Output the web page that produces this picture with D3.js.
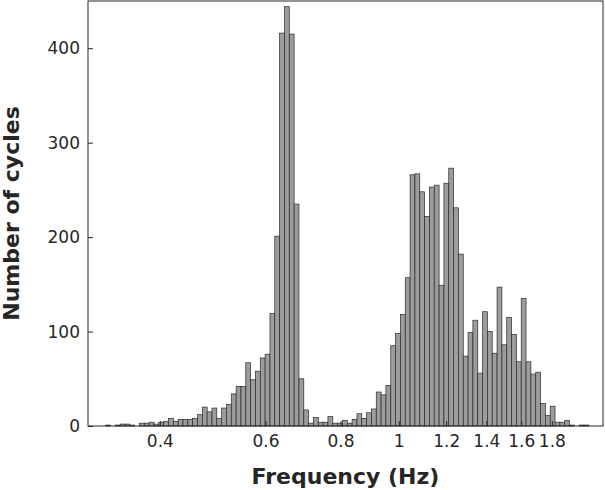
<!DOCTYPE html>
<html>
<head>
<meta charset="utf-8">
<script src="https://cdn.jsdelivr.net/npm/d3@7"></script>
<style>
  body { margin: 0; background: #fff; }
  text { font-family: "DejaVu Sans", sans-serif; fill: #262626; }
</style>
</head>
<body>
<div id="chart"></div>
<script>
// histogram of cycle frequencies, 100 log-spaced bins
const binLow = 0.3249;
const binHigh = 2.0745;
const counts = [
  1, 0, 1, 2, 2, 1, 0, 3, 3, 4,
  2, 4, 5, 8, 5, 7, 7, 7, 8, 12,
  20, 15, 19, 8, 19, 23, 34, 42, 42, 67,
  49, 58, 72, 76, 119, 201, 416, 444, 415, 235,
  50, 17, 3, 9, 4, 4, 10, 3, 3, 6,
  3, 7, 13, 8, 14, 18, 36, 33, 43, 85,
  98, 118, 157, 266, 267, 248, 222, 253, 255, 149,
  257, 273, 231, 182, 74, 99, 112, 56, 121, 100,
  77, 147, 86, 115, 97, 68, 135, 68, 55, 57,
  24, 11, 21, 4, 4, 6, 1, 0, 1, 1
];
const xTicks = [0.4, 0.6, 0.8, 1, 1.2, 1.4, 1.6, 1.8];
const yTicks = [0, 100, 200, 300, 400];

const width = 605, height = 490;
const plot = { left: 88, right: 603, top: 1, bottom: 426 };

const edges = d3.range(counts.length + 1)
  .map(i => binLow * Math.pow(binHigh / binLow, i / counts.length));
const bins = counts.map((c, i) => ({ x0: edges[i], x1: edges[i + 1], count: c }));

const x = d3.scaleLog().domain([0.3036, 2.19]).range([plot.left, plot.right]);
const y = d3.scaleLinear().domain([0, 450]).range([plot.bottom, plot.top]);

const svg = d3.select('#chart').append('svg')
  .attr('width', width)
  .attr('height', height);

svg.append('g')
  .selectAll('rect')
  .data(bins.filter(d => d.count > 0))
  .join('rect')
  .attr('x', d => x(d.x0))
  .attr('width', d => x(d.x1) - x(d.x0))
  .attr('y', d => y(d.count))
  .attr('height', d => y(0) - y(d.count))
  .attr('fill', '#9c9c9c')
  .attr('stroke', '#2a2a2a')
  .attr('stroke-width', 0.7);

const xAxis = svg.append('g')
  .attr('transform', `translate(0,${plot.bottom})`)
  .call(d3.axisBottom(x).tickValues(xTicks).tickFormat(d3.format('~g'))
    .tickSizeInner(-5).tickSizeOuter(0).tickPadding(9));

const yAxis = svg.append('g')
  .attr('transform', `translate(${plot.left},0)`)
  .call(d3.axisLeft(y).tickValues(yTicks)
    .tickSizeInner(-5).tickSizeOuter(0).tickPadding(8));

[xAxis, yAxis].forEach(g => {
  g.select('.domain').remove();
  g.selectAll('line').attr('stroke', '#262626');
  g.selectAll('text')
    .attr('font-size', 17)
    .attr('font-family', '"DejaVu Sans", sans-serif')
    .attr('fill', '#262626');
});

// frame
svg.append('rect')
  .attr('x', plot.left)
  .attr('y', plot.top)
  .attr('width', plot.right - plot.left)
  .attr('height', plot.bottom - plot.top)
  .attr('fill', 'none')
  .attr('stroke', '#262626')
  .attr('stroke-width', 1);

svg.append('text')
  .attr('x', (plot.left + plot.right) / 2)
  .attr('y', 484)
  .attr('text-anchor', 'middle')
  .attr('font-size', 22)
  .attr('font-weight', 'bold')
  .text('Frequency (Hz)');

svg.append('text')
  .attr('transform', `translate(19,${(plot.top + plot.bottom) / 2}) rotate(-90)`)
  .attr('text-anchor', 'middle')
  .attr('font-size', 22)
  .attr('font-weight', 'bold')
  .text('Number of cycles');
</script>
</body>
</html>
